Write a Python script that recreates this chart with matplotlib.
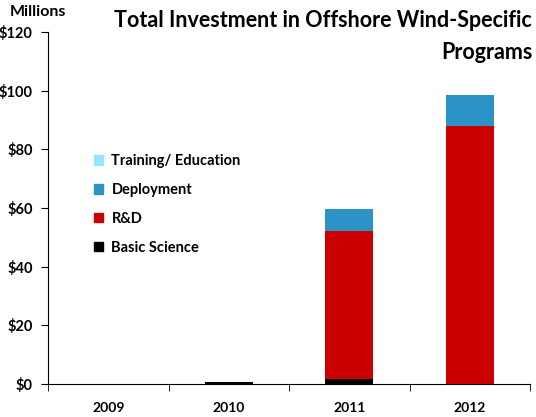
import matplotlib.pyplot as plt
import numpy as np
from matplotlib.patches import Patch

plt.rcParams['font.family'] = ['Lato', 'DejaVu Sans']

years = ['2009', '2010', '2011', '2012']
basic_science = [0.0, 0.7, 1.7, 0.0]
rnd = [0.0, 0.0, 50.5, 88.0]
deployment = [0.0, 0.0, 7.3, 10.5]
training = [0.0, 0.0, 0.3, 0.0]

series = [('Basic Science', basic_science, '#000000'),
          ('R&D', rnd, '#CC0000'),
          ('Deployment', deployment, '#2B93C6'),
          ('Training/ Education', training, '#99E5FF')]

fig = plt.figure(figsize=(5.36, 4.17), dpi=100)
ax = fig.add_axes([0.0896, 0.0791, 0.8992, 0.8442])

x = np.arange(len(years))
bottom = np.zeros(len(years))
for name, vals, col in series:
    ax.bar(x, vals, width=0.4, bottom=bottom, color=col, linewidth=0)
    bottom += np.array(vals)

ax.set_xlim(-0.5, 3.5)
ax.set_ylim(0, 120)
ax.set_yticks(np.arange(0, 121, 20))
ax.set_yticklabels(['$%d' % v for v in range(0, 121, 20)], fontweight='bold', fontsize=10.5)
ax.set_xticks(x)
ax.set_xticklabels(years, fontweight='bold', fontsize=10)
ax.tick_params(axis='x', length=0, pad=13)
ax.set_xticks(np.arange(-0.5, 3.6, 1), minor=True)
ax.tick_params(axis='x', which='minor', length=5, direction='out')
ax.tick_params(axis='y', length=5, direction='out', pad=6)
ax.spines['top'].set_visible(False)
ax.spines['right'].set_visible(False)

fig.text(0.018, 0.971, 'Millions', fontsize=11.5, fontweight='bold', va='center')
fig.text(0.993, 0.952, 'Total Investment in Offshore Wind-Specific',
         fontsize=15.5, fontweight='bold', ha='right', va='center')
fig.text(0.993, 0.873, 'Programs',
         fontsize=15.5, fontweight='bold', ha='right', va='center')

handles = [Patch(color=c, label=n) for n, v, c in series[::-1]]
ax.legend(handles=handles, loc='upper left', bbox_to_anchor=(0.068, 0.69),
          frameon=False, prop={'weight': 'bold', 'size': 10.5},
          handlelength=0.6, handleheight=0.6, handletextpad=0.6, labelspacing=1.02)

fig.savefig('out.png', dpi=100)
